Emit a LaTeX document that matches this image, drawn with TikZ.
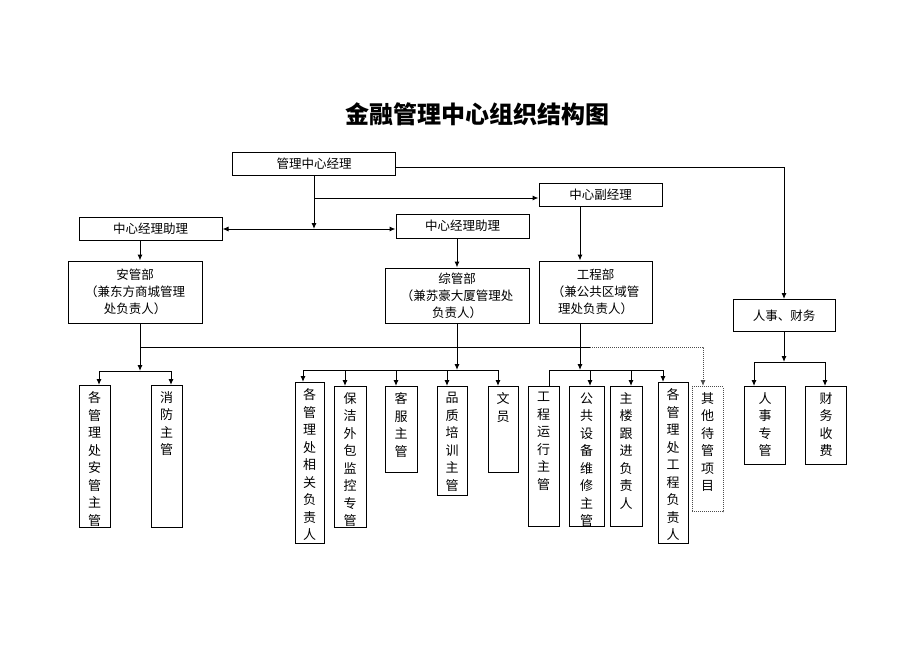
\documentclass[tikz,border=0pt]{standalone}
\usepackage{fontspec}
\newfontfamily\cjk{Noto Sans CJK SC}
\usetikzlibrary{arrows.meta}
\newcommand{\vstack}[2]{\parbox[c][#1][t]{14pt}{\centering\fontsize{13}{17.5}\selectfont\vspace*{6pt}#2}}

\begin{document}
\begin{tikzpicture}[x=1pt,y=-1pt,
	arr/.style={-{Latex[length=6pt,width=5pt]}},
	arrs/.style={{Latex[length=6pt,width=5pt]}-{Latex[length=6pt,width=5pt]}},
	hv/.style={to path={-| (\tikztotarget)}}]
	\useasboundingbox (0,0) rectangle (920,651);
	\node[font=\cjk\bfseries\fontsize{24}{28}\selectfont] (title) at (477,114) {金融管理中心组织结构图};
	\begin{scope}[every node/.style={draw,line width=1pt,inner sep=0pt,align=center,font=\cjk\fontsize{12.5}{17}\selectfont}]
	\node[minimum width=163pt,minimum height=23pt] (gm) at (314,163.5) {管理中心经理};
	\node[minimum width=123pt,minimum height=23pt] (dgm) at (600.5,194.5) {中心副经理};
	\node[minimum width=143pt,minimum height=23pt] (asstl) at (150.5,228.5) {中心经理助理};
	\node[minimum width=133pt,minimum height=24pt] (asstm) at (462.5,226) {中心经理助理};
	\node[minimum width=134pt,minimum height=62pt] (secdep) at (135,292) {安管部\\（兼东方商城管理\\处负责人）};
	\node[minimum width=144pt,minimum height=55pt] (gendep) at (457,295.5) {综管部\\（兼苏豪大厦管理处\\负责人）};
	\node[minimum width=113pt,minimum height=62pt] (engdep) at (595.5,292) {工程部\\（兼公共区域管\\理处负责人）};
	\node[minimum width=102pt,minimum height=32pt] (hrfin) at (784,315.5) {人事、财务};
	\end{scope}
	\begin{scope}[every node/.style={draw,line width=1pt,inner sep=0pt,anchor=north,font=\cjk}]
	\node[minimum width=31pt] (s1) at (94.5,385) {\vstack{142pt}{各\\管\\理\\处\\安\\管\\主\\管}};
	\node[minimum width=31pt] (s2) at (166.5,385) {\vstack{142pt}{消\\防\\主\\管}};
	\node[minimum width=29pt] (z1) at (309.5,382) {\vstack{161pt}{各\\管\\理\\处\\相\\关\\负\\责\\人}};
	\node[minimum width=32pt] (z2) at (350,386) {\vstack{141pt}{保\\洁\\外\\包\\监\\控\\专\\管}};
	\node[minimum width=32pt] (z3) at (401,386) {\vstack{86pt}{客\\服\\主\\管}};
	\node[minimum width=30pt] (z4) at (452,386) {\vstack{109pt}{品\\质\\培\\训\\主\\管}};
	\node[minimum width=30pt] (z5) at (503,386) {\vstack{86pt}{文\\员}};
	\node[minimum width=31pt] (e1) at (543.5,386) {\vstack{140pt}{工\\程\\运\\行\\主\\管}};
	\node[minimum width=35pt] (e2) at (586.5,386) {\vstack{140pt}{公\\共\\设\\备\\维\\修\\主\\管}};
	\node[minimum width=32pt] (e3) at (626,386) {\vstack{140pt}{主\\楼\\跟\\进\\负\\责\\人}};
	\node[minimum width=30pt] (e4) at (673,382) {\vstack{161pt}{各\\管\\理\\处\\工\\程\\负\\责\\人}};
	\node[minimum width=31pt,densely dotted,draw=black!70] (o1) at (707.5,386) {\vstack{125pt}{其\\他\\待\\管\\项\\目}};
	\node[minimum width=41pt] (h1) at (765,386) {\vstack{78pt}{人\\事\\专\\管}};
	\node[minimum width=41pt] (h2) at (826,386) {\vstack{78pt}{财\\务\\收\\费}};
	\end{scope}
	\coordinate (j0) at (314,229);
	\coordinate (j1) at (314,198);
	\coordinate (j2) at (395.5,167);
	\coordinate (ja) at (140,240);
	\coordinate (jg) at (580,206);
	\coordinate (ba) at (140,371);
	\coordinate (bz) at (457,370);
	\coordinate (bg) at (580,370);
	\coordinate (br) at (784,362);
	\coordinate (bus1) at (140,347);
	\coordinate (bus2) at (590,347);
	\begin{scope}[every edge/.style={draw=black,line width=1pt}]
	\path (gm.south) edge[arr] (j0);
	\path (j0 -| asstl.east) edge[arrs] (j0 -| asstm.west);
	\path (j1) edge[arr] (j1 -| dgm.west);
	\path (j2) edge[arr,hv] (hrfin.north);
	\path (ja) edge[arr] (ja |- secdep.north);
	\path (asstm.south -| gendep.north) edge[arr] (gendep.north);
	\path (jg) edge[arr] (jg |- engdep.north);
	\path (ba |- secdep.south) edge[arr] (ba);
	\path (gendep.south) edge[arr] (bz);
	\path (bg |- engdep.south) edge[arr] (bg);
	\path (hrfin.south) edge[arr] (br);
	\path (bus1) edge (bus2);
	\path (bus2) edge[arr,hv,densely dotted,draw=black!70] ([xshift=-4.5pt]o1.north);
	\path (ba) edge[arr,hv] ([xshift=4.5pt]s1.north) edge[arr,hv] ([xshift=4.5pt]s2.north);
	\path (bz) edge[arr,hv] ([xshift=-6.5pt]z1.north) edge[arr,hv] ([xshift=-5pt]z2.north)
		edge[arr,hv] ([xshift=-5pt]z3.north) edge[arr,hv] ([xshift=-5pt]z4.north)
		edge[arr,hv] ([xshift=-5pt]z5.north);
	\path (bg) edge[hv] ([xshift=5.5pt]e1.north) edge[arr,hv] ([xshift=3.5pt]e2.north)
		edge[arr,hv] ([xshift=5pt]e3.north) edge[arr,hv] ([xshift=-10pt]e4.north);
	\path (br) edge[arr,hv] ([xshift=-11pt]h1.north) edge[arr,hv] ([xshift=-1pt]h2.north);
	\end{scope}
\end{tikzpicture}
\end{document}
